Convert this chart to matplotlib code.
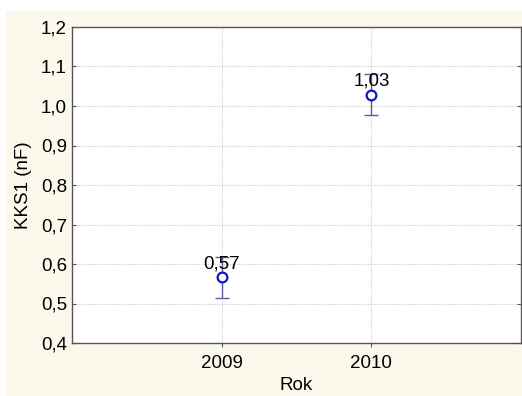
import matplotlib
matplotlib.use("Agg")
import matplotlib.pyplot as plt
from matplotlib.patches import Rectangle
from matplotlib.ticker import FuncFormatter

# Mean capacitance per year with its error half-width
years = ["2009", "2010"]
means = [0.566, 1.028]
errors = [0.051, 0.052]
labels = ["0,57", "1,03"]

yticks = [0.4, 0.5, 0.6, 0.7, 0.8, 0.9, 1.0, 1.1, 1.2]

plt.rcParams["font.family"] = ["Liberation Sans", "DejaVu Sans"]

W, H = 522, 396
fig = plt.figure(figsize=(W / 100, H / 100), dpi=100, facecolor="white")

# cream panel behind the plot
fig.patches.append(Rectangle((6 / W, 0), 1 - 6 / W, 1 - 11 / H,
                             transform=fig.transFigure, facecolor="#fcf8ec",
                             edgecolor="none", zorder=-5))

ax = fig.add_axes([72 / W, 53 / H, 449 / W, 316 / H])
ax.set_zorder(2)
ax.set_facecolor("white")

xpos = list(range(len(years)))
ax.errorbar(xpos, means, yerr=errors, fmt="none", ecolor="#5c5c9c",
            elinewidth=1.0, capsize=5.0, capthick=1.0, zorder=3)
ax.plot(xpos, means, "o", markersize=7, markerfacecolor="white",
        markeredgecolor="#1414c8", markeredgewidth=1.6, zorder=4,
        linestyle="none")

for x, y, t in zip(xpos, means, labels):
    ax.annotate(t, (x, y), xytext=(0, 6.5), textcoords="offset points",
                ha="center", va="baseline", fontsize=13.5, color="black",
                zorder=5)

ax.set_xlim(-1, 2)
ax.set_ylim(0.4, 1.2)
ax.set_xticks(xpos)
ax.set_xticklabels(years)
ax.set_yticks(yticks)
ax.yaxis.set_major_formatter(FuncFormatter(lambda v, p: f"{v:.1f}".replace(".", ",")))

ax.grid(True, color="#d0d0d0", linestyle=(0, (1, 1)), linewidth=0.8)
ax.set_axisbelow(True)

for s in ax.spines.values():
    s.set_color("#555555")
    s.set_linewidth(1.0)

ax.tick_params(axis="y", direction="in", length=3, left=True, right=True,
               color="#555555", pad=3.6, labelsize=13.5)
ax.tick_params(axis="x", direction="out", length=3, top=False, bottom=True,
               color="#555555", pad=5.5, labelsize=13.5)

ax.set_xlabel("Rok", fontsize=13.5, labelpad=4)
ax.set_ylabel("KKS1 (nF)", fontsize=13.5)
ax.yaxis.set_label_coords(-40 / 449, 0.5)

fig.savefig("out.png", dpi=100, facecolor=fig.get_facecolor())
